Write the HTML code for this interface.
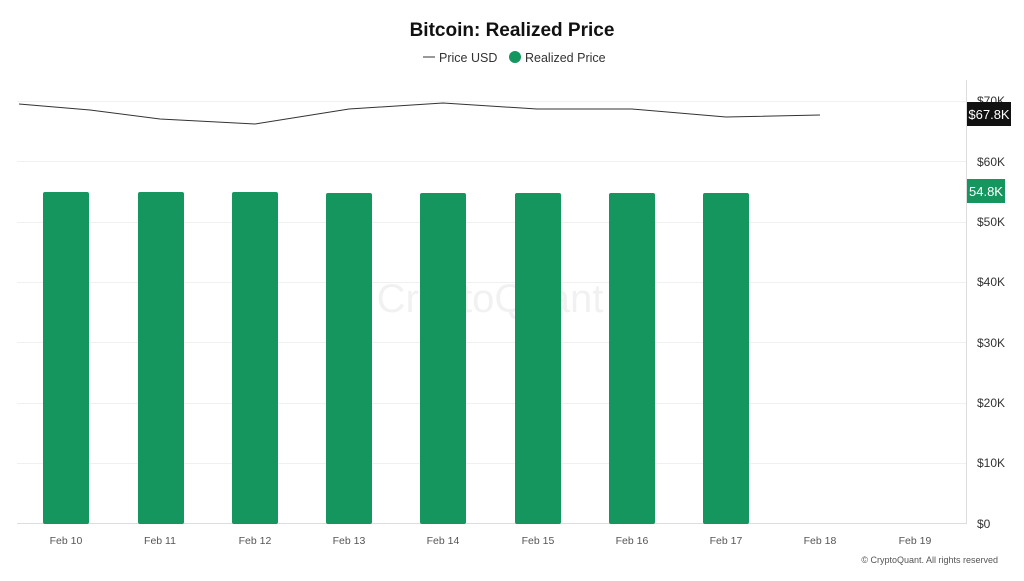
<!DOCTYPE html>
<html><head><style>
body{margin:0;width:1024px;height:576px;background:#fff;font-family:"Liberation Sans",sans-serif;overflow:hidden;position:relative}
</style></head><body>
<svg width="1024" height="576" xmlns="http://www.w3.org/2000/svg" font-family="Liberation Sans, sans-serif">
<text x="512" y="36" text-anchor="middle" font-size="19" font-weight="bold" fill="#111">Bitcoin: Realized Price</text>
<line x1="423" y1="57" x2="435" y2="57" stroke="#333" stroke-width="1"/>
<text x="439" y="62" font-size="12.5" fill="#333">Price USD</text>
<circle cx="515" cy="57" r="6" fill="#14965e"/>
<text x="525" y="62" font-size="12.5" fill="#333">Realized Price</text>
<g stroke="#f0f0f0" stroke-width="1">
<line x1="17" y1="101.5" x2="966" y2="101.5"/>
<line x1="17" y1="161.5" x2="966" y2="161.5"/>
<line x1="17" y1="222.5" x2="966" y2="222.5"/>
<line x1="17" y1="282.5" x2="966" y2="282.5"/>
<line x1="17" y1="342.5" x2="966" y2="342.5"/>
<line x1="17" y1="403.5" x2="966" y2="403.5"/>
<line x1="17" y1="463.5" x2="966" y2="463.5"/>
</g>
<line x1="17" y1="523.5" x2="966" y2="523.5" stroke="#ddd"/>
<line x1="966.5" y1="80" x2="966.5" y2="524" stroke="#ddd"/>
<text x="490" y="312" text-anchor="middle" font-size="40" fill="#000" opacity="0.05">CryptoQuant</text>
<g fill="#14965e">
<rect x="43" y="192" width="46" height="332" rx="2"/>
<rect x="138" y="192" width="46" height="332" rx="2"/>
<rect x="232" y="192" width="46" height="332" rx="2"/>
<rect x="326" y="193" width="46" height="331" rx="2"/>
<rect x="420" y="193" width="46" height="331" rx="2"/>
<rect x="515" y="193" width="46" height="331" rx="2"/>
<rect x="609" y="193" width="46" height="331" rx="2"/>
<rect x="703" y="193" width="46" height="331" rx="2"/>
</g>
<polyline fill="none" stroke="#333" stroke-width="1" points="19,104 90,110 160,119 255,124 349,109 443,103 537,109 632,109 726,117 820,115"/>
<g font-size="12" fill="#333">
<text x="977" y="105">$70K</text>
<text x="977" y="166">$60K</text>
<text x="977" y="226">$50K</text>
<text x="977" y="286">$40K</text>
<text x="977" y="347">$30K</text>
<text x="977" y="407">$20K</text>
<text x="977" y="467">$10K</text>
<text x="977" y="528">$0</text>
</g>
<rect x="967" y="102" width="44" height="24" fill="#111"/>
<text x="989" y="119" text-anchor="middle" font-size="13" fill="#fff">$67.8K</text>
<rect x="967" y="179" width="38" height="24" fill="#14965e"/>
<text x="986" y="196" text-anchor="middle" font-size="13" fill="#fff">54.8K</text>
<g font-size="10.5" fill="#555" text-anchor="middle">
<text x="66" y="544">Feb 10</text>
<text x="160" y="544">Feb 11</text>
<text x="255" y="544">Feb 12</text>
<text x="349" y="544">Feb 13</text>
<text x="443" y="544">Feb 14</text>
<text x="538" y="544">Feb 15</text>
<text x="632" y="544">Feb 16</text>
<text x="726" y="544">Feb 17</text>
<text x="820" y="544">Feb 18</text>
<text x="915" y="544">Feb 19</text>
</g>
<text x="998" y="563" text-anchor="end" font-size="9" fill="#555">© CryptoQuant. All rights reserved</text>
</svg>
</body></html>
